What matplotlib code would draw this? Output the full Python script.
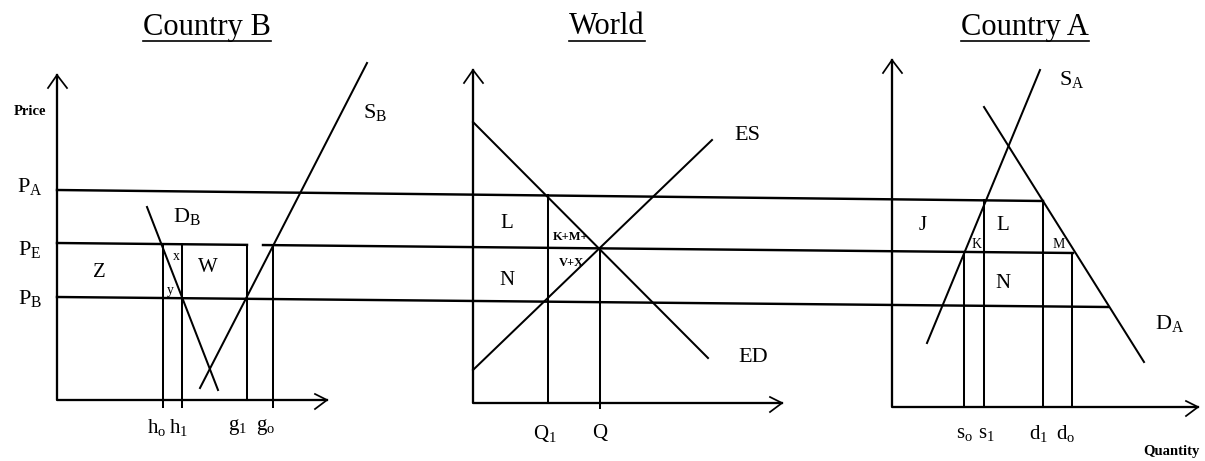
import numpy as np
import matplotlib.pyplot as plt

plt.rcParams['font.family'] = 'Liberation Serif'
plt.rcParams['mathtext.fontset'] = 'custom'
plt.rcParams['mathtext.rm'] = 'Liberation Serif'
plt.rcParams['mathtext.it'] = 'Liberation Serif:italic'

# the whole sketch is laid out in pixel units of a 1205 x 461 page (y grows downward)

# panel titles
titles = ['Country B', 'World', 'Country A']
title_x = [207, 607, 1025]

# axes of the three panels: origin, top of price axis, end of quantity axis
axis_x0 = [57, 473, 892]
axis_y0 = [400, 403, 407]
axis_top = [75, 70, 60]
axis_right = [327, 782, 1198]

# world price lines P_A, P_E, P_B (hand drawn, so slightly tilted)
price_labels = [r'$\mathrm{P_A}$', r'$\mathrm{P_E}$', r'$\mathrm{P_B}$']
price_label_y = [186, 249, 298]
price_x0 = 57
price_y0 = [190, 243, 297]
price_y1 = [201, 253, 307]
price_end = [1043, 1073, 1108]
pe_gap = [247, 263]

# supply / demand curves
curve_labels = [r'$\mathrm{S_B}$', r'$\mathrm{D_B}$', 'ES', 'ED', r'$\mathrm{S_A}$', r'$\mathrm{D_A}$']
curve_x0 = [200, 147, 473, 473, 927, 984]
curve_y0 = [388, 207, 370, 122, 343, 107]
curve_x1 = [367, 218, 712, 708, 1040, 1144]
curve_y1 = [63, 390, 140, 358, 70, 362]
curve_lab_x = [375, 187, 747, 753, 1072, 1170]
curve_lab_y = [112, 216, 135, 357, 80, 323]

# vertical quantity lines: x, price line they start from (0=P_A, 1=P_E), bottom
qty_x = [163, 182, 247, 273, 548, 600, 964, 984, 1043, 1072]
qty_top = [1, 1, 1, 1, 0, 1, 1, 0, 0, 1]
qty_bottom = [407, 407, 400, 407, 403, 408, 407, 407, 407, 407]

# quantity tick labels
qty_labels = [r'$\mathrm{h_o}$', r'$\mathrm{h_1}$', r'$\mathrm{g_1}$', r'$\mathrm{g_o}$',
              r'$\mathrm{Q_1}$', 'Q',
              r'$\mathrm{s_o}$', r'$\mathrm{s_1}$', r'$\mathrm{d_1}$', r'$\mathrm{d_o}$']
qty_lab_x = [157, 179, 238, 266, 545, 600, 964, 986, 1039, 1066]
qty_lab_y = [427, 427, 427, 427, 433, 433, 433, 433, 433, 433]

# area labels
area_text = ['Z', 'W', 'x', 'y', 'L', 'N', 'K+M+', 'V+X', 'J', 'L', 'N', 'K', 'M']
area_x = [99, 208, 176, 170, 507, 507, 571, 571, 923, 1003, 1003, 977, 1059]
area_y = [272, 267, 256, 290, 223, 280, 237, 263, 225, 225, 283, 244, 244]
area_size = [15, 15, 10, 10, 15, 15, 9, 9, 15, 15, 15, 10, 10]


def price_y(i, x):
    return price_y0[i] + (price_y1[i] - price_y0[i]) * (x - price_x0) / (price_end[i] - price_x0)


fig = plt.figure(figsize=(12.05, 4.61), dpi=100)
ax = fig.add_axes([0, 0, 1, 1])
ax.set_xlim(0, 1205)
ax.set_ylim(461, 0)
ax.axis('off')

lw = 1.45
k = 'black'

# axes with open arrow heads
for x0, y0, top, right in zip(axis_x0, axis_y0, axis_top, axis_right):
    ax.plot([x0, x0, right], [top, y0, y0], color=k, lw=lw + 0.2)
    ax.plot([x0 - 9, x0, x0 + 10], [top + 13, top, top + 13], color=k, lw=lw - 0.2)
    ax.plot([right - 12, right, right - 12], [y0 - 6, y0, y0 + 9], color=k, lw=lw - 0.2)

# price lines
for i in range(3):
    if i == 1:
        segs = [(price_x0, pe_gap[0]), (pe_gap[1], price_end[i])]
    else:
        segs = [(price_x0, price_end[i])]
    for xa, xb in segs:
        ax.plot([xa, xb], [price_y(i, xa), price_y(i, xb)], color=k, lw=lw + 0.3)
    ax.text(30, price_label_y[i], price_labels[i], fontsize=16, ha='center', va='center')

# curves
for i in range(len(curve_labels)):
    ax.plot([curve_x0[i], curve_x1[i]], [curve_y0[i], curve_y1[i]], color=k, lw=lw)
    ax.text(curve_lab_x[i], curve_lab_y[i], curve_labels[i], fontsize=16, ha='center', va='center')

# vertical quantity lines
for x, t, b in zip(qty_x, qty_top, qty_bottom):
    ax.plot([x, x], [price_y(t, x), b], color=k, lw=lw)

for s, x, y in zip(qty_labels, qty_lab_x, qty_lab_y):
    ax.text(x, y, s, fontsize=15, ha='center', va='center')

for s, x, y, fs in zip(area_text, area_x, area_y, area_size):
    ax.text(x, y, s, fontsize=fs, ha='center', va='center',
            fontweight='bold' if '+' in s else 'normal')

ax.text(30, 111, 'Price', fontsize=10.5, fontweight='bold', ha='center', va='center')
ax.text(1171, 451, 'Quantity', fontsize=10.5, fontweight='bold', ha='center', va='center')

# underlined titles
title_objs = []
for s, x in zip(titles, title_x):
    title_objs.append(ax.text(x, 27, s, fontsize=22, ha='center', va='center'))
fig.canvas.draw()
inv = ax.transData.inverted()
for t in title_objs:
    bb = t.get_window_extent()
    (xa, ya), (xb, yb) = inv.transform([[bb.x0, bb.y0], [bb.x1, bb.y1]])
    ax.plot([xa, xb], [41, 41], color=k, lw=1.2)

fig.savefig('out.png', dpi=100)
